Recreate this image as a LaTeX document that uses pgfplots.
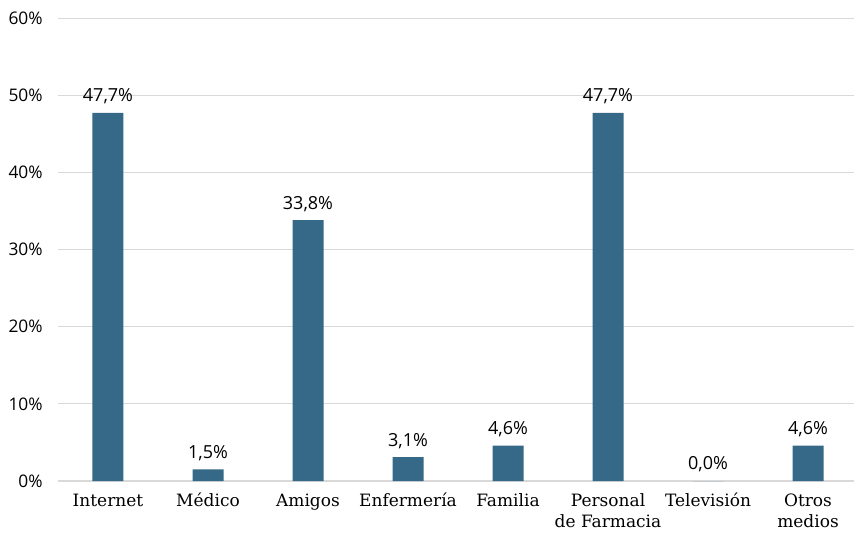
\documentclass[border=0pt]{standalone}
\usepackage{pgfplots}
\pgfplotsset{compat=1.18}
\usepackage{fontspec}
\setmainfont{DejaVu Serif}
\newfontfamily\labelfont{Open Sans}
\definecolor{barblue}{HTML}{366987}
\definecolor{gridgray}{HTML}{D9D9D9}
\begin{document}
\begin{tikzpicture}[x=1pt,y=1pt]
\path[use as bounding box] (-43.5,-39) rectangle (597,360.75);
\begin{axis}[
  at={(0,0)}, anchor=south west,
  scale only axis,
  width=597pt, height=347.25pt,
  xmin=-0.5, xmax=7.46,
  ymin=0, ymax=60,
  axis x line*=bottom,
  axis y line*=left,
  x axis line style={draw=gridgray, line width=0.9pt},
  y axis line style={draw=none},
  ymajorgrids,
  grid style={gridgray, line width=0.75pt},
  ytick={0,10,...,60},
  yticklabel={\labelfont\pgfmathprintnumber{\tick}\%},
  /pgf/number format/assume math mode=true,
  yticklabel style={font=\fontsize{13}{15}\selectfont, anchor=east, xshift=-8pt},
  major tick length=0pt,
  xtick={0,...,7},
  xticklabels={\strut Internet, \strut Médico, \strut Amigos, \strut Enfermería, \strut Familia, \strut Personal\\de Farmacia, \strut Televisión, \strut Otros\\medios},
  xticklabel style={font=\fontsize{12.75}{15.75}\selectfont, align=center, anchor=north, yshift=-4.25pt},
  ybar, bar width=23.25pt,
  nodes near coords={\labelfont\pgfmathprintnumber[use comma, fixed, fixed zerofill, precision=1]{\pgfplotspointmeta}\%},
  every node near coord/.append style={font=\fontsize{13.5}{15}\selectfont, anchor=south, yshift=3pt},
  clip=false,
]
\addplot[fill=barblue, draw=none] coordinates {
  (0,47.7) (1,1.5) (2,33.8) (3,3.1) (4,4.6) (5,47.7) (6,0.0) (7,4.6)
};
\end{axis}
\end{tikzpicture}
\end{document}
